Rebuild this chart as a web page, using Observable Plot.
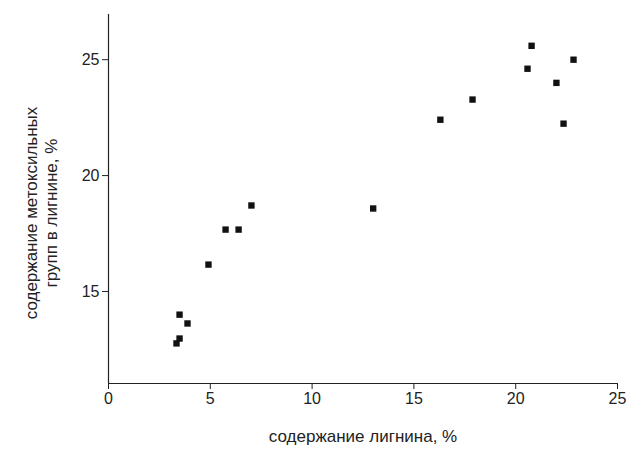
<!DOCTYPE html>
<html>
<head>
<meta charset="utf-8">
<script src="https://cdn.jsdelivr.net/npm/d3@7"></script>
<script src="https://cdn.jsdelivr.net/npm/@observablehq/plot@0.6"></script>
<style>
  body { margin: 0; background: #fff; }
  #chart svg { font-family: "Liberation Sans", Arial, sans-serif; }
</style>
</head>
<body>
<div id="chart"></div>
<script>
const lignin = [3.34, 3.49, 3.49, 3.88, 4.91, 5.75, 6.39, 7.02, 13.0, 16.3, 17.88, 20.58, 20.78, 22.0, 22.35, 22.84];
const methoxyl = [12.76, 12.97, 14.0, 13.62, 16.16, 17.67, 17.67, 18.71, 18.58, 22.41, 23.28, 24.61, 25.6, 24.0, 22.24, 25.0];
const xTicks = [0, 5, 10, 15, 20, 25];
const yTicks = [15, 20, 25];
const xLabel = "содержание лигнина, %";
const yLabel = "содержание метоксильных\nгрупп в лигнине, %";

const points = lignin.map((x, i) => ({ x, y: methoxyl[i] }));

const plot = Plot.plot({
  width: 630,
  height: 451,
  marginLeft: 108,
  marginRight: 13,
  marginTop: 14,
  marginBottom: 68,
  style: { fontSize: "16px", color: "#222" },
  x: { domain: [0, 25], ticks: xTicks, label: null },
  y: { domain: [11.03, 26.95], ticks: yTicks, label: null },
  marks: [
    Plot.axisX({ ticks: xTicks, tickSize: 6, fontSize: 16, tickPadding: 3 }),
    Plot.axisY({ ticks: yTicks, tickSize: 6, fontSize: 16, tickPadding: 3 }),
    Plot.ruleX([0], { stroke: "#222", strokeWidth: 1.2 }),
    Plot.ruleY([11.03], { stroke: "#222", strokeWidth: 1.2 }),
    Plot.dot(points, { x: "x", y: "y", symbol: "square", r: 3.6, fill: "#111", stroke: "none" }),
    Plot.text([xLabel], { frameAnchor: "bottom", dy: 58, fontSize: 17, fill: "#222" }),
    Plot.text([yLabel], { frameAnchor: "left", textAnchor: "middle", rotate: -90, dx: -68, dy: 14, fontSize: 17, fill: "#222", lineHeight: 1.2 })
  ]
});
document.getElementById("chart").append(plot);
</script>
</body>
</html>
